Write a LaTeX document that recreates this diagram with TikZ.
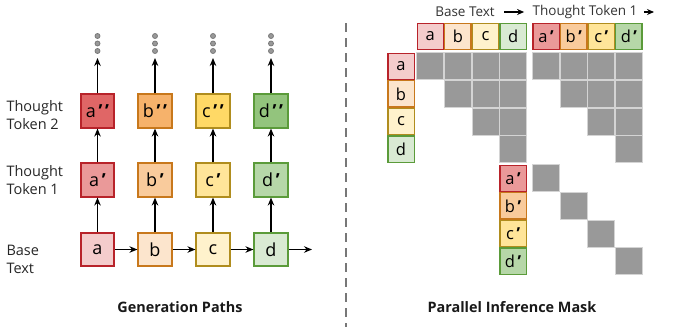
\documentclass[tikz,border=0pt]{standalone}
\usepackage{fontspec}
\setmainfont{Open Sans}
\usetikzlibrary{arrows.meta,calc}
\definecolor{bda}{HTML}{B8232A}
\definecolor{bdb}{HTML}{C8781C}
\definecolor{bdc}{HTML}{B08D1E}
\definecolor{bdd}{HTML}{5B9B3A}
\definecolor{fa0}{HTML}{F4CCCC}
\definecolor{fa1}{HTML}{EA9999}
\definecolor{fa2}{HTML}{E06666}
\definecolor{fb0}{HTML}{FCE5CD}
\definecolor{fb1}{HTML}{F9CB9C}
\definecolor{fb2}{HTML}{F6B26B}
\definecolor{fc0}{HTML}{FFF2CC}
\definecolor{fc1}{HTML}{FFE599}
\definecolor{fc2}{HTML}{FFD966}
\definecolor{fd0}{HTML}{D9EAD3}
\definecolor{fd1}{HTML}{B6D7A8}
\definecolor{fd2}{HTML}{93C47D}
\definecolor{maskgray}{HTML}{999999}
\definecolor{maskline}{HTML}{D4D4D4}
\definecolor{dashgray}{HTML}{777777}
\newcommand{\pr}{\kern2.6pt{\bfseries ’}}
\begin{document}
\begin{tikzpicture}[x=1pt,y=-1pt,
  tok/.style={draw, line width=1.6pt, minimum size=33.5pt, inner sep=0pt, font=\fontsize{18}{18}\selectfont},
  mcell/.style={draw, line width=1.3pt, minimum size=26.3pt, inner sep=0pt, font=\fontsize{16.5}{16.5}\selectfont},
  gcell/.style={fill=maskgray, draw=maskline, line width=0.7pt, minimum size=27pt, inner sep=0pt},
  arr/.style={line width=1.5pt, -{Stealth[length=8pt,width=6.5pt]}},
  harr/.style={line width=1.3pt, -{Stealth[length=7pt,width=6pt]}},
  dotc/.style={circle, fill=maskgray, draw=dashgray, line width=0.8pt, minimum size=5pt, inner sep=0pt},
  lab/.style={align=left, anchor=west, font=\fontsize{14.5}{18}\selectfont, text=black!85},
  ttl/.style={font=\fontsize{14.4}{16}\selectfont\bfseries, text=black!90},
  hdr/.style={font=\fontsize{13.5}{15}\selectfont, text=black!80}
]
\useasboundingbox (0,0) rectangle (688,327);

% ---------- left: generation paths ----------
\node[lab] (l2) at (3,115) {Thought\\Token 2};
\node[lab] (l1) at (3,180) {Thought\\Token 1};
\node[lab] (l0) at (3,259) {Base\\Text};

\foreach \n/\x in {a/97.5,b/155,c/213,d/271}{
  \node[tok, draw=bd\n, fill=f\n0] (\n0) at (\x,249.5) {\n};
  \node[tok, draw=bd\n, fill=f\n1] (\n1) at (\x,180) {\n\pr};
  \node[tok, draw=bd\n, fill=f\n2] (\n2) at (\x,111) {\n\pr\pr};
  \coordinate (\n top) at (\x,58);
  \draw[arr] (\n0) -- (\n1);
  \draw[arr] (\n1) -- (\n2);
  \draw[arr] (\n2) -- (\n top);
  \node[dotc] (\n dot1) at (\x,36) {};
  \node[dotc] (\n dot2) at (\x,43.5) {};
  \node[dotc] (\n dot3) at (\x,51) {};
}
\coordinate (hend) at (312,249.5);
\draw[arr] (a0) -- (b0);
\draw[arr] (b0) -- (c0);
\draw[arr] (c0) -- (d0);
\draw[arr] (d0) -- (hend);

\node[ttl] (t1) at (180,307) {Generation Paths};

% ---------- divider ----------
\coordinate (dtop) at (346,23);
\coordinate (dbot) at (346,327);
\draw[dashgray, line width=2pt, dash pattern=on 9pt off 6pt] (dtop) -- (dbot);

% ---------- right: parallel inference mask ----------
\node[hdr] (bt) at (465,12) {Base Text};
\node[hdr] (tt) at (585,12) {Thought Token 1};
\coordinate (ttend) at (654,12);
\draw[harr] ($(bt.east)+(6,0)$) -- ($(tt.west)+(-5,0)$);
\draw[harr] ($(tt.east)+(3,0)$) -- (ttend);

\foreach \n [count=\i from 0] in {a,b,c,d}{
  % header columns
  \node[mcell, draw=bd\n, fill=f\n0] (hb\n) at (430.3+27.6*\i,36.5) {\n};
  \node[mcell, draw=bd\n, fill=f\n1] (ht\n) at (546.1+27.6*\i,36.5) {\n\pr};
  % row labels
  \node[mcell, draw=bd\n, fill=f\n0] (rb\n) at (401,66.3+27.6*\i) {\n};
  \node[mcell, draw=bd\n, fill=f\n1] (rt\n) at (513.1,178.3+27.6*\i) {\n\pr};
  % thought rows: diagonal
  \node[gcell] (gt\n) at (546.1+27.6*\i,178.3+27.6*\i) {};
}
\foreach \j in {0,...,3}{
  \foreach \i in {0,...,3}{
    \ifnum\i<\j\else
      \node[gcell] (gb-\j-\i) at (430.3+27.6*\i,66.3+27.6*\j) {};
      \node[gcell] (gbt-\j-\i) at (546.1+27.6*\i,66.3+27.6*\j) {};
    \fi
  }
}

\node[ttl] (t2) at (512,307) {Parallel Inference Mask};
\end{tikzpicture}
\end{document}
